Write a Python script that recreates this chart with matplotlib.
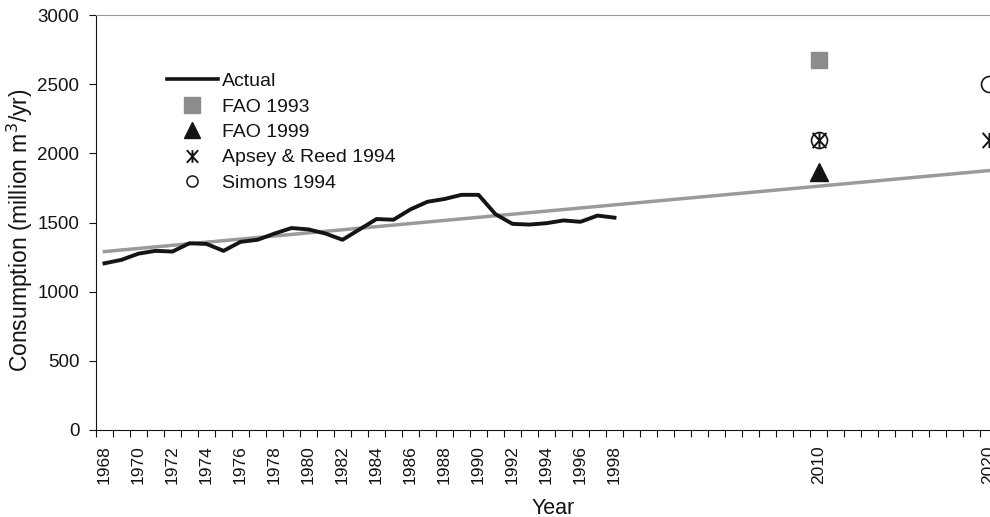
import numpy as np
import matplotlib
matplotlib.use("Agg")
import matplotlib.pyplot as plt
from matplotlib.path import Path
from matplotlib.lines import Line2D

plt.rcParams['font.family'] = ['Liberation Sans', 'DejaVu Sans']

# observed consumption, 1968-1998
years = list(range(1968, 1999))
actual = [1205, 1230, 1275, 1295, 1290, 1350, 1345, 1295, 1360, 1375,
          1420, 1460, 1450, 1420, 1375, 1450, 1525, 1520, 1595, 1650,
          1670, 1700, 1700, 1560, 1490, 1485, 1495, 1515, 1505, 1550,
          1535]

# linear trend end points
trend_years = [1968, 2020]
trend_vals = [1290, 1875]

# projections
fao93_years = [2010]
fao93_vals = [2675]
fao99_years = [2010]
fao99_vals = [1865]
apsey_years = [2010, 2020]
apsey_vals = [2095, 2100]
simons_years = [2010, 2020]
simons_vals = [2095, 2500]

labelled_years = list(range(1968, 1999, 2)) + [2010, 2020]

# X with a vertical bar through it
star_path = Path([(0, -1), (0, 1), (-0.9, -1), (0.9, 1), (-0.9, 1), (0.9, -1)],
                 [Path.MOVETO, Path.LINETO, Path.MOVETO, Path.LINETO, Path.MOVETO, Path.LINETO])

ink = '#141414'

fig = plt.figure(figsize=(9.9, 5.17), dpi=100)
ax = fig.add_axes([96 / 990, 1 - 430 / 517, 901 / 990, 415 / 517])

ax.plot(trend_years, trend_vals, color='#9a9a9a', lw=2.5, zorder=2)
ax.plot(years, actual, color=ink, lw=2.8, zorder=3)
ax.plot(fao93_years, fao93_vals, ls='none', marker='s', ms=11.5, color='#8c8c8c', zorder=4)
ax.plot(fao99_years, fao99_vals, ls='none', marker='^', ms=12.5, color=ink, zorder=4)
ax.plot(apsey_years, apsey_vals, ls='none', marker=star_path, ms=11, mew=1.4,
        color=ink, zorder=4)
ax.plot(simons_years, simons_vals, ls='none', marker='o', ms=11.5, mfc='none', mew=1.2,
        mec=ink, zorder=5)

# category-style axis: labels at the years, tick marks between them
ax.set_xlim(1967.5, 2020.5)
ax.set_ylim(0, 3000)
ax.set_yticks(np.arange(0, 3001, 500))
ax.set_xticks(labelled_years)
ax.set_xticklabels([str(y) for y in labelled_years], rotation=90)
ax.set_xticks(np.arange(1967.5, 2021, 1.0), minor=True)
ax.tick_params(axis='x', which='major', length=0, labelsize=12.5, pad=11, colors=ink)
ax.tick_params(axis='x', which='minor', direction='out', length=5, width=0.8, color=ink)
ax.tick_params(axis='y', direction='out', length=5, width=0.8, labelsize=13.5, pad=7,
               colors=ink)

ax.spines['right'].set_visible(False)
ax.spines['top'].set_color('#9a9a9a')
ax.spines['left'].set_color(ink)
ax.spines['bottom'].set_color(ink)

ax.set_xlabel('Year', fontsize=15.5, color=ink)
ax.xaxis.set_label_coords(0.507, -0.163)
ax.set_ylabel('Consumption (million m$^3$/yr)', fontsize=16.5, color=ink)
ax.yaxis.set_label_coords(-0.068, 0.482)

handles = [
    Line2D([], [], color=ink, lw=2.6),
    Line2D([], [], ls='none', marker='s', ms=11, color='#8c8c8c'),
    Line2D([], [], ls='none', marker='^', ms=11, color=ink),
    Line2D([], [], ls='none', marker=star_path, ms=9, mew=1.4, color=ink),
    Line2D([], [], ls='none', marker='o', ms=8, mfc='none', mew=1.1, mec=ink),
]
names = ['Actual', 'FAO 1993', 'FAO 1999', 'Apsey & Reed 1994', 'Simons 1994']
ax.legend(handles, names, loc='upper left', bbox_to_anchor=(0.079, 0.861), frameon=False,
          fontsize=14, handlelength=2.6, handletextpad=0.2, labelspacing=0.4,
          borderpad=0, borderaxespad=0, labelcolor=ink)

fig.savefig('out.png', dpi=100)
